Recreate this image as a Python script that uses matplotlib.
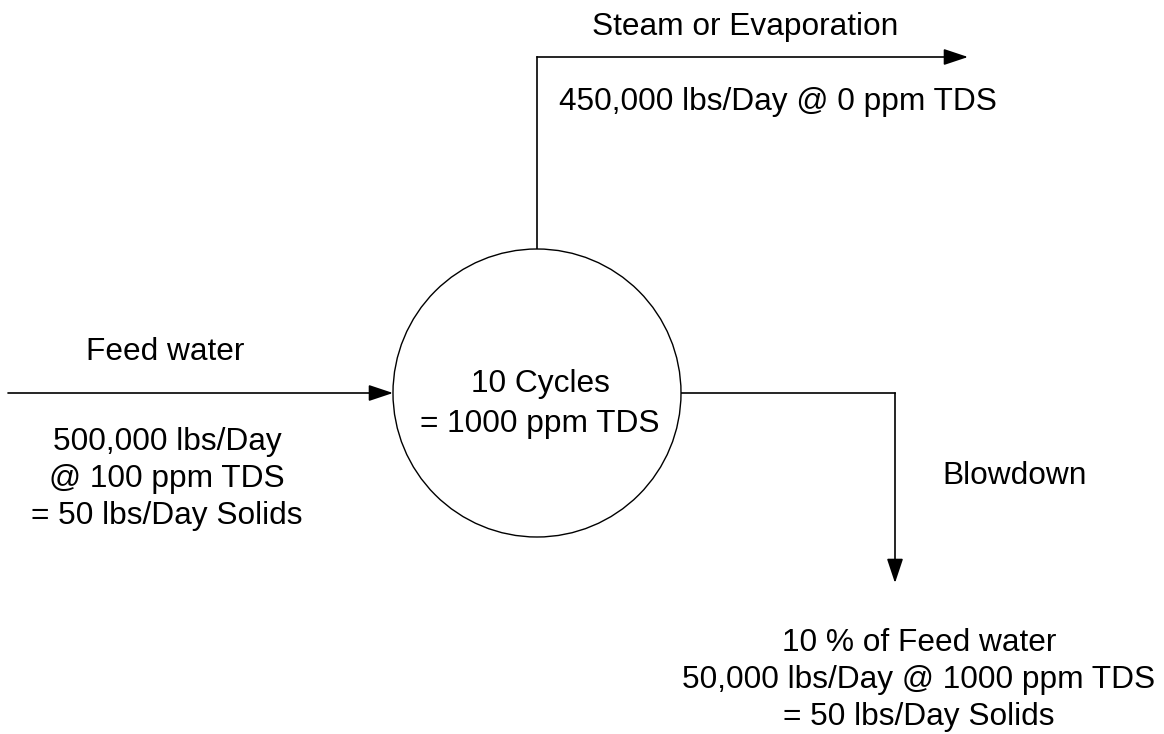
import matplotlib
matplotlib.use("Agg")
import matplotlib.pyplot as plt
from matplotlib.patches import Circle

# diagram geometry in pixel units (y grows downward)
W, H = 1164, 734
boiler_center = (537, 393)
boiler_radius = 144

steam_x = [537, 537, 968]
steam_y = [249, 57, 57]
feed_x = [8, 393]
feed_y = [393, 393]
blow_x = [681, 895, 895]
blow_y = [393, 393, 583]

# text, x, y, line spacing
labels = [
    ("Steam or Evaporation", 745, 27, 1.3),
    ("450,000 lbs/Day @ 0 ppm TDS", 778, 102, 1.3),
    ("Feed water", 165, 352, 1.3),
    ("500,000 lbs/Day\n@ 100 ppm TDS\n= 50 lbs/Day Solids", 167, 479, 1.3),
    ("10 Cycles\n= 1000 ppm TDS", 540, 404, 1.4),
    ("Blowdown", 1015, 476, 1.3),
    ("10 % of Feed water\n50,000 lbs/Day @ 1000 ppm TDS\n= 50 lbs/Day Solids", 919, 680, 1.3),
]

plt.rcParams["font.family"] = "Liberation Sans"

fig = plt.figure(figsize=(W / 100, H / 100), dpi=100)
ax = fig.add_axes([0, 0, 1, 1])
ax.set_xlim(0, W)
ax.set_ylim(H, 0)
ax.axis("off")

ax.add_patch(Circle(boiler_center, boiler_radius, facecolor="white",
                    edgecolor="black", linewidth=1.0, zorder=2))


def flow(xs, ys):
    ax.plot(xs[:-1], ys[:-1], color="black", linewidth=1.2, zorder=1)
    ax.annotate("", xy=(xs[-1], ys[-1]), xytext=(xs[-2], ys[-2]),
                arrowprops=dict(arrowstyle="-|>,head_length=1.5,head_width=0.5",
                                color="black", linewidth=1.2,
                                shrinkA=0, shrinkB=0),
                zorder=3)


flow(steam_x, steam_y)
flow(feed_x, feed_y)
flow(blow_x, blow_y)

for text, x, y, ls in labels:
    ax.text(x, y, text, ha="center", va="center", fontsize=22.8,
            linespacing=ls, color="black")

fig.savefig("out.png", dpi=100)
